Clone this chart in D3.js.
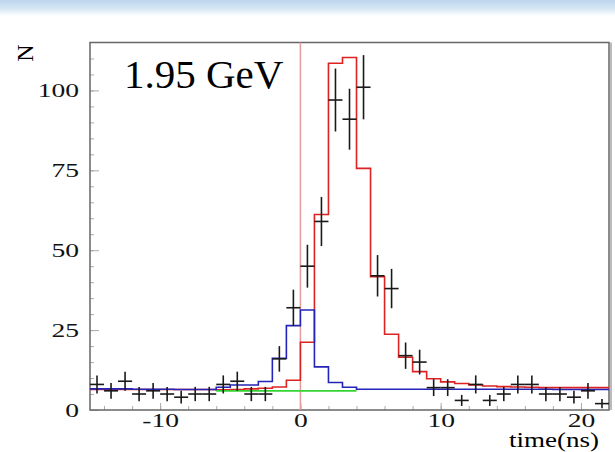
<!DOCTYPE html>
<html>
<head>
<meta charset="utf-8">
<script src="https://cdn.jsdelivr.net/npm/d3@7"></script>
<style>
	body { margin: 0; background: #fff; }
	svg { display: block; }
	.axis text { font-family: "Liberation Serif", "Times New Roman", serif; fill: #111; }
</style>
</head>
<body>
<svg id="chart" width="615" height="452"></svg>
<script>
// bin centres (ns), 1 ns bins
var binTime = [
	-14.5, -13.5, -12.5, -11.5, -10.5, -9.5, -8.5, -7.5, -6.5, -5.5, -4.5, -3.5, -2.5,
	-1.5, -0.5, 0.5, 1.5, 2.5, 3.5, 4.5, 5.5, 6.5, 7.5, 8.5, 9.5,
	10.5, 11.5, 12.5, 13.5, 14.5, 15.5, 16.5, 17.5, 18.5, 19.5, 20.5, 21.5
];
var counts = [
	8, 6, 9, 5, 6, 5, 4, 5, 5, 8, 9, 5, 5,
	16, 32, 45, 59, 97, 91, 101, 42, 38, 17, 15, 7,
	7, 3, 8, 3, 5, 8, 8, 5, 5, 4, 6, 2
];
// total fit (red)
var fitTotal = [
	6.4, 6.4, 6.4, 6.4, 6.4, 6.4, 6.4, 6.4, 6.4, 6.3, 6.4, 6.6, 6.8,
	7.2, 9.3, 21.2, 61.2, 108.5, 110.3, 75.6, 41.7, 23.7, 16.5, 12.0, 9.8,
	8.8, 8.3, 7.8, 7.5, 7.3, 7.2, 7.1, 7.0, 7.0, 7.0, 7.0, 7.0
];
// prompt component (blue)
var fitPrompt = [
	6.6, 6.6, 6.6, 6.5, 6.5, 6.5, 6.4, 6.4, 6.4, 7.1, 7.8, 7.8, 8.9,
	16.2, 26.4, 31.3, 13.5, 8.6, 7.1, 6.5, 6.5, 6.5, 6.5, 6.5, 6.5,
	6.5, 6.5, 6.5, 6.5, 6.5, 6.5, 6.5, 6.5, 6.4, 6.4, 6.4, 6.4
];
// background (green), only drawn around the peak
var bgTime = [-5.5, -4.5, -3.5, -2.5, -1.5, -0.5, 0.5, 1.5, 2.5, 3.5];
var bgLevel = [6.0, 6.0, 6.0, 6.0, 6.0, 6.0, 6.0, 6.0, 6.0, 6.0];

var xTicks = [-10, 0, 10, 20];
var yTicks = [0, 25, 50, 75, 100];

CHART = {
	W: 615,
	H: 452,
	margin: { left: 90, right: 6, top: 42.5, bottom: 42 },
	serif: '"Liberation Serif", "Times New Roman", serif',

	init: function() {
		var svg = d3.select('#chart');
		var m = CHART.margin;

		var x = d3.scaleLinear().domain([-15, 22]).range([m.left, CHART.W - m.right]);
		var y = d3.scaleLinear().domain([0, 115]).range([CHART.H - m.bottom, m.top]);

		// slide background strip at the top
		var defs = svg.append('defs');
		var grad = defs.append('linearGradient')
			.attr('id', 'topband')
			.attr('x1', 0).attr('x2', 0).attr('y1', 0).attr('y2', 1);
		grad.append('stop').attr('offset', '0%').attr('stop-color', '#bcd6ec');
		grad.append('stop').attr('offset', '55%').attr('stop-color', '#d6e7f4');
		grad.append('stop').attr('offset', '100%').attr('stop-color', '#ffffff');
		svg.append('rect')
			.attr('x', 0).attr('y', 0)
			.attr('width', CHART.W).attr('height', 16)
			.attr('fill', 'url(#topband)');

		var step = function(times, values) {
			var pts = times.map(function(t, i) { return [t - 0.5, values[i]]; });
			pts.push([times[times.length - 1] + 0.5, values[values.length - 1]]);
			return d3.line()
				.x(function(d) { return x(d[0]); })
				.y(function(d) { return y(d[1]); })
				.curve(d3.curveStepAfter)(pts);
		};

		// axes with ticks pointing into the frame
		svg.append('g')
			.attr('class', 'axis')
			.attr('transform', 'translate(' + m.left + ',0)')
			.call(d3.axisLeft(y).tickValues(yTicks).tickSize(-9).tickPadding(11));
		svg.append('g')
			.attr('class', 'axis minor')
			.attr('transform', 'translate(' + m.left + ',0)')
			.call(d3.axisLeft(y).tickValues(d3.range(0, 115, 5)).tickSize(-4).tickFormat(''));

		svg.append('g')
			.attr('class', 'axis')
			.attr('transform', 'translate(0,' + y(0) + ')')
			.call(d3.axisBottom(x).tickValues(xTicks).tickSize(-7).tickPadding(3)
				.tickFormat(function(d) { return String(d); }));
		svg.append('g')
			.attr('class', 'axis minor')
			.attr('transform', 'translate(0,' + y(0) + ')')
			.call(d3.axisBottom(x).tickValues(d3.range(-14, 22, 2)).tickSize(-4).tickFormat(''));

		svg.selectAll('.axis .domain').remove();
		svg.selectAll('.axis line').attr('stroke', '#aaa').attr('stroke-width', 1);
		svg.selectAll('.axis text')
			.attr('font-size', 19)
			.attr('textLength', function() { return this.getComputedTextLength() * 1.45; })
			.attr('lengthAdjust', 'spacingAndGlyphs');

		// frame
		svg.append('rect')
			.attr('x', m.left).attr('y', m.top)
			.attr('width', CHART.W - m.right - m.left)
			.attr('height', y(0) - m.top)
			.attr('fill', 'none')
			.attr('stroke', '#666')
			.attr('stroke-width', 1.5);
		svg.append('line')
			.attr('x1', CHART.W - m.right + 2).attr('x2', CHART.W - m.right + 2)
			.attr('y1', m.top).attr('y2', y(0))
			.attr('stroke', '#bbb').attr('stroke-width', 2);

		// label
		svg.append('text')
			.attr('x', 124).attr('y', 88)
			.attr('font-family', CHART.serif)
			.attr('font-size', 41)
			.attr('fill', '#000')
			.text('1.95 GeV');

		// t = 0 marker
		svg.append('line')
			.attr('x1', x(0)).attr('x2', x(0))
			.attr('y1', m.top).attr('y2', y(0))
			.attr('stroke', '#e49a9a').attr('stroke-width', 1.5);

		var curves = [
			{ t: binTime, v: fitTotal, c: '#dd2222' },
			{ t: binTime, v: fitPrompt, c: '#2424b8' },
			{ t: bgTime, v: bgLevel, c: '#33d433' }
		];
		svg.selectAll('path.hist')
			.data(curves)
			.enter()
			.append('path')
			.attr('class', 'hist')
			.attr('d', function(d) { return step(d.t, d.v); })
			.attr('fill', 'none')
			.attr('stroke', function(d) { return d.c; })
			.attr('stroke-width', 1.6);

		// data points with sqrt(N) errors
		var pts = svg.append('g').attr('stroke', '#1a1a1a').attr('stroke-width', 1.6);
		pts.selectAll('line.xerr')
			.data(counts)
			.enter()
			.append('line')
			.attr('x1', function(d, i) { return x(binTime[i] - 0.5); })
			.attr('x2', function(d, i) { return x(binTime[i] + 0.5); })
			.attr('y1', function(d) { return y(d); })
			.attr('y2', function(d) { return y(d); });
		pts.selectAll('line.yerr')
			.data(counts)
			.enter()
			.append('line')
			.attr('x1', function(d, i) { return x(binTime[i]); })
			.attr('x2', function(d, i) { return x(binTime[i]); })
			.attr('y1', function(d) { return y(d - Math.sqrt(d)); })
			.attr('y2', function(d) { return y(Math.min(d + Math.sqrt(d), 115)); });

		// axis titles
		svg.append('text')
			.attr('transform', 'translate(33,53) rotate(-90)')
			.attr('text-anchor', 'middle')
			.attr('font-family', CHART.serif)
			.attr('font-size', 24)
			.text('N');
		svg.append('text')
			.attr('x', CHART.W - 16).attr('y', 447)
			.attr('text-anchor', 'end')
			.attr('font-family', CHART.serif)
			.attr('font-size', 20)
			.attr('textLength', 90)
			.attr('lengthAdjust', 'spacingAndGlyphs')
			.text('time(ns)');
	}
};

CHART.init();
</script>
</body>
</html>
